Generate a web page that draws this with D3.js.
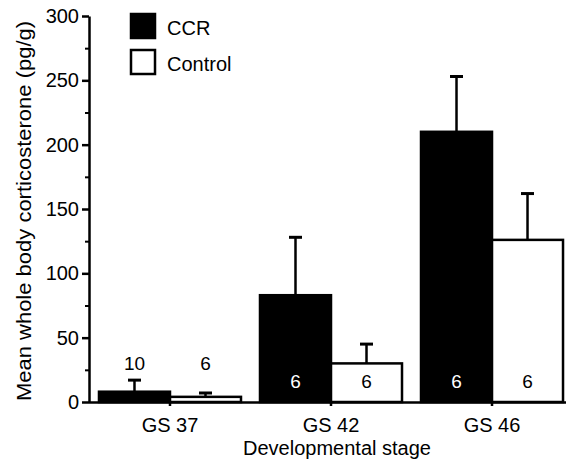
<!DOCTYPE html>
<html>
<head>
<meta charset="UTF-8">
<script src="https://d3js.org/d3.v7.min.js"></script>
<style>
  body { margin: 0; background: #fff; }
  svg { display: block; font-family: "Liberation Sans", Arial, sans-serif; }
</style>
</head>
<body>
<svg id="chart" width="568" height="466"></svg>
<script>
const stages = ["GS 37", "GS 42", "GS 46"];
const series = ["CCR", "Control"];
const ccrMean = [8, 83, 210];
const ccrErr = [17, 128, 253];
const ctrlMean = [4, 30, 126];
const ctrlErr = [7, 45, 162];
const ccrN = ["10", "6", "6"];
const ctrlN = ["6", "6", "6"];
const yTicks = [0, 50, 100, 150, 200, 250, 300];

const svg = d3.select("#chart");
const x0 = 89, yBase = 402;
const fs = 20;

const x = d3.scaleBand().domain(stages).range([x0, 573]).paddingInner(0.118).paddingOuter(0.062);
const xs = d3.scaleBand().domain(series).range([0, x.bandwidth()]);
const y = d3.scaleLinear().domain([0, 300]).range([yBase, 16]);

const rows = [];
stages.forEach((s, i) => {
  rows.push({ stage: s, series: "CCR", mean: ccrMean[i], err: ccrErr[i], n: ccrN[i] });
  rows.push({ stage: s, series: "Control", mean: ctrlMean[i], err: ctrlErr[i], n: ctrlN[i] });
});

// error bars, drawn behind the bars
const eb = svg.append("g").attr("stroke", "#000").attr("stroke-width", 2.5);
rows.forEach(d => {
  const cx = x(d.stage) + xs(d.series) + xs.bandwidth() / 2;
  eb.append("line").attr("x1", cx).attr("x2", cx).attr("y1", y(d.mean)).attr("y2", y(d.err));
  eb.append("line").attr("x1", cx - 6.5).attr("x2", cx + 6.5).attr("y1", y(d.err)).attr("y2", y(d.err)).attr("stroke-width", 3);
});

svg.append("g").selectAll("rect").data(rows).enter().append("rect")
  .attr("x", d => x(d.stage) + xs(d.series))
  .attr("y", d => y(d.mean))
  .attr("width", xs.bandwidth())
  .attr("height", d => y(0) - y(d.mean))
  .attr("fill", d => d.series === "CCR" ? "#000" : "#fff")
  .attr("stroke", "#000").attr("stroke-width", 2.5);

// sample sizes
svg.append("g").selectAll("text").data(rows).enter().append("text")
  .attr("x", d => x(d.stage) + xs(d.series) + xs.bandwidth() / 2)
  .attr("y", d => d.stage === "GS 37" ? 370 : 388)
  .attr("text-anchor", "middle")
  .attr("font-size", 19)
  .attr("fill", d => (d.stage !== "GS 37" && d.series === "CCR") ? "#fff" : "#000")
  .text(d => d.n);

// y axis
const yAxis = svg.append("g").attr("transform", `translate(${x0},0)`)
  .call(d3.axisLeft(y).tickValues(yTicks).tickSize(7).tickPadding(3).tickSizeOuter(0));
yAxis.selectAll("text").attr("font-size", fs).attr("fill", "#000").attr("font-family", "Liberation Sans, Arial, sans-serif");
yAxis.select(".domain").attr("stroke-width", 2.5);
yAxis.selectAll(".tick line").attr("stroke-width", 2.5);
svg.append("g").attr("transform", `translate(${x0},0)`)
  .call(d3.axisLeft(y).tickValues(d3.range(25, 300, 50)).tickSize(4).tickFormat(""))
  .call(g => g.select(".domain").remove())
  .selectAll("line").attr("stroke-width", 2);

// x axis
const xAxis = svg.append("g").attr("transform", `translate(0,${yBase})`)
  .call(d3.axisBottom(x).tickSize(4).tickPadding(12).tickSizeOuter(0));
xAxis.select(".domain").attr("d", `M${x0},0.5H566`).attr("stroke-width", 2.5);
xAxis.selectAll(".tick line").attr("stroke-width", 2.5);
xAxis.selectAll("text").attr("font-size", fs).attr("fill", "#000").attr("font-family", "Liberation Sans, Arial, sans-serif");

// axis titles
svg.append("text").attr("x", 337).attr("y", 455).attr("text-anchor", "middle")
  .attr("font-size", fs).text("Developmental stage");
svg.append("text").attr("transform", "translate(31,211) rotate(-90) scale(1.1,1)").attr("text-anchor", "middle")
  .attr("font-size", fs).text("Mean whole body corticosterone (pg/g)");

// legend
const lg = svg.append("g");
series.forEach((s, i) => {
  lg.append("rect").attr("x", 131).attr("y", 14 + i * 36).attr("width", 24).attr("height", 24)
    .attr("fill", s === "CCR" ? "#000" : "#fff").attr("stroke", "#000").attr("stroke-width", 2.5);
  lg.append("text").attr("x", 167).attr("y", 35 + i * 36).attr("font-size", fs).text(s);
});
</script>
</body>
</html>
